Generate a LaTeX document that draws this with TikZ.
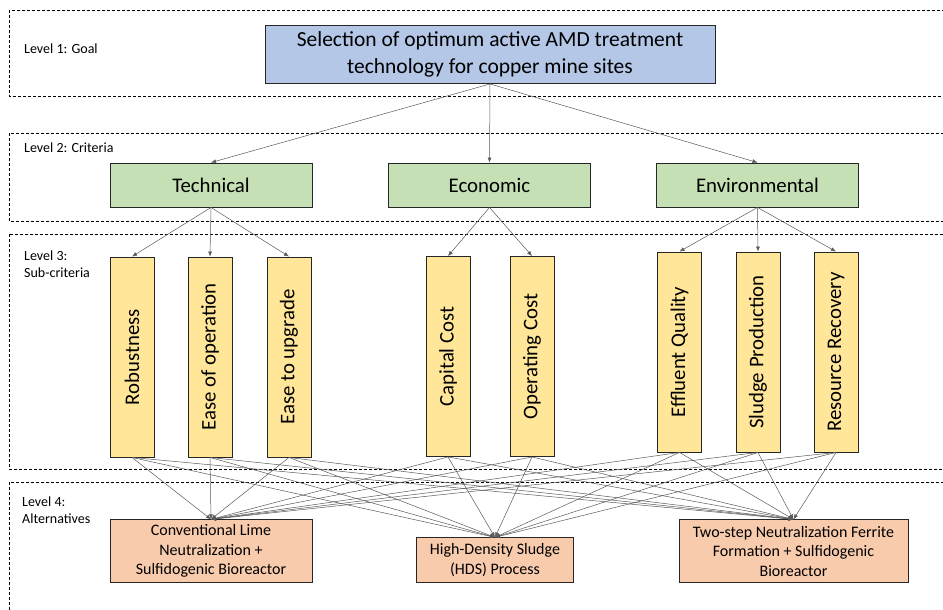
\documentclass[tikz,border=0pt]{standalone}
\usepackage{fontspec}
\setmainfont{Carlito}
\usepackage{xcolor}
\usetikzlibrary{arrows.meta,positioning}

\definecolor{goalblue}{HTML}{B4C7E7}
\definecolor{critgreen}{HTML}{C5E0B4}
\definecolor{subyellow}{HTML}{FFE699}
\definecolor{altorange}{HTML}{F8CBAD}

\begin{document}
\begin{tikzpicture}[x=1pt,y=-1pt,
    box/.style={draw=black!85,line width=0.9pt,align=center,inner sep=2pt},
    goalbox/.style={box,fill=goalblue,minimum width=450pt,minimum height=58pt,font=\fontsize{21.5}{27}\selectfont},
    critbox/.style={box,fill=critgreen,minimum width=202pt,minimum height=44pt,font=\fontsize{20.8}{24}\selectfont},
    subbox/.style={box,fill=subyellow,minimum width=44pt,minimum height=200pt,font=\fontsize{20.8}{24}\selectfont},
    altbox/.style={box,fill=altorange,minimum height=63pt,font=\fontsize{16}{19.5}\selectfont},
    level/.style={draw,line width=0.9pt,dash pattern=on 3pt off 2pt},
    lvltext/.style={anchor=west,align=left,inner sep=0pt,font=\fontsize{14}{17}\selectfont},
    link/.style={draw=black!65,line width=0.5pt,-{Latex[length=5pt,width=4pt]}}]
  \useasboundingbox (0,0) rectangle (943,610);

  % level frames
  \draw[level] (9,10) rectangle (946,96);
  \draw[level] (9,133) rectangle (946,221);
  \draw[level] (9,234) rectangle (946,469);
  \draw[level] (9,482) rectangle (946,615);
  \node[lvltext] (l1) at (24,49) {Level 1: Goal};
  \node[lvltext] (l2) at (24,148) {Level 2: Criteria};
  \node[lvltext] (l3) at (24,264.5) {Level 3:\\Sub-criteria};
  \node[lvltext] (l4) at (22,510.5) {Level 4:\\Alternatives};

  % goal and criteria
  \node[goalbox] (goal) at (490,54.5) {Selection of optimum active AMD treatment\\technology for copper mine sites};
  \node[critbox] (tech) at (211,185) {Technical};
  \node[critbox] (econ) at (489.5,185) {Economic};
  \node[critbox] (envi) at (757.5,185) {Environmental};

  % sub-criteria
  \node[subbox] (rob) at (132,357) {\rotatebox{90}{Robustness}};
  \node[subbox] (eop) at (210,357) {\rotatebox{90}{Ease of operation}};
  \node[subbox] (eup) at (289,357) {\rotatebox{90}{Ease to upgrade}};
  \node[subbox] (cap) at (448,356.5) {\rotatebox{90}{Capital Cost}};
  \node[subbox] (opc) at (532,356.5) {\rotatebox{90}{Operating Cost}};
  \node[subbox] (eff) at (679.5,352) {\rotatebox{90}{Effluent Quality}};
  \node[subbox] (slp) at (758,352) {\rotatebox{90}{Sludge Production}};
  \node[subbox] (rer) at (836,352) {\rotatebox{90}{Resource Recovery}};

  % alternatives
  \node[altbox,minimum width=202pt] (conv) at (211,551.3) {Conventional Lime\\Neutralization +\\Sulfidogenic Bioreactor};
  \node[altbox,minimum width=157pt,minimum height=45pt] (hds) at (495,560.3) {High-Density Sludge\\(HDS) Process};
  \node[altbox,minimum width=229pt] (two) at (793.5,551.3) {Two-step Neutralization Ferrite\\Formation + Sulfidogenic\\Bioreactor};

  \draw[link] (goal.south) -- (tech.north);
  \draw[link] (goal.south) -- (econ.north);
  \draw[link] (goal.south) -- (envi.north);
  \draw[link] (tech.south) -- (rob.north);
  \draw[link] (tech.south) -- (eop.north);
  \draw[link] (tech.south) -- (eup.north);
  \draw[link] (econ.south) -- (cap.north);
  \draw[link] (econ.south) -- (opc.north);
  \draw[link] (envi.south) -- (eff.north);
  \draw[link] (envi.south) -- (slp.north);
  \draw[link] (envi.south) -- (rer.north);
  \foreach \s in {rob,eop,eup,cap,opc,eff,slp,rer}
    \foreach \a in {conv,hds,two}
      \draw[link] (\s.south) -- (\a.north);
\end{tikzpicture}
\end{document}
